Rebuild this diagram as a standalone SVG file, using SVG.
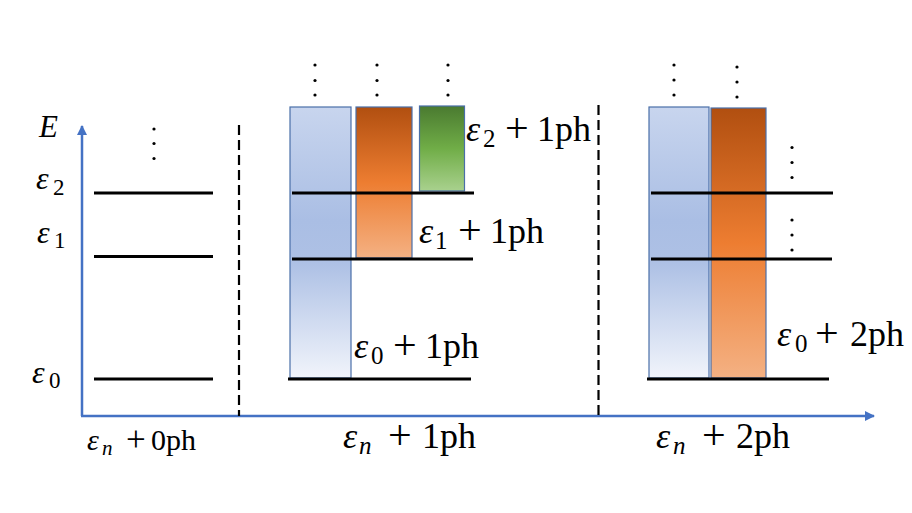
<svg xmlns="http://www.w3.org/2000/svg" width="912" height="513" viewBox="0 0 912 513">
<style>
.t{font-family:"Liberation Serif","DejaVu Serif",serif;fill:#000}
.big{font-size:36px}
.mid{font-size:30px}
.it{font-style:italic}
.pl{font-size:42px}
.plm{font-size:35px}
.lvl{stroke:#000;stroke-width:3;fill:none}
.dash{stroke:#000;stroke-width:2.2;stroke-dasharray:10 5;fill:none}
.axis{stroke:#4472C4;stroke-width:2.5;fill:none}
.bar{stroke:#4A6FA8;stroke-width:1.2}
.dot{fill:#000}
</style>
<defs>
<linearGradient id="gBlue" x1="0" y1="0" x2="0" y2="1">
<stop offset="0" stop-color="#C8D5EE"/>
<stop offset="0.42" stop-color="#AABEE4"/>
<stop offset="0.58" stop-color="#AEC1E5"/>
<stop offset="1" stop-color="#F1F4FB"/>
</linearGradient>
<linearGradient id="gOrange" x1="0" y1="0" x2="0" y2="1">
<stop offset="0" stop-color="#B14F10"/>
<stop offset="0.5" stop-color="#ED7D31"/>
<stop offset="1" stop-color="#F4B183"/>
</linearGradient>
<linearGradient id="gGreen" x1="0" y1="0" x2="0" y2="1">
<stop offset="0" stop-color="#4A7A30"/>
<stop offset="0.5" stop-color="#70AD47"/>
<stop offset="1" stop-color="#A9D18E"/>
</linearGradient>
<marker id="arr" viewBox="0 0 10 10" refX="9" refY="5" markerWidth="4" markerHeight="4" orient="auto" markerUnits="strokeWidth">
<path d="M0,0 L10,5 L0,10 z" fill="#4472C4"/>
</marker>
</defs>

<g id="connectors">
<line class="axis" x1="82" y1="416" x2="82" y2="126" marker-end="url(#arr)"/>
<line class="axis" x1="81" y1="416" x2="874" y2="416" marker-end="url(#arr)"/>
<line class="dash" x1="239" y1="125" x2="239" y2="416"/>
<line class="dash" x1="598.5" y1="105" x2="598.5" y2="416"/>
</g>

<g id="axis-labels">
<text class="t it" x="39" y="137" font-size="31">E</text>
<text class="t" font-size="32" y="189"><tspan class="it" x="36">ε</tspan><tspan x="53" dy="6" font-size="23">2</tspan></text>
<text class="t" font-size="32" y="243"><tspan class="it" x="37">ε</tspan><tspan x="54" dy="5" font-size="23">1</tspan></text>
<text class="t" font-size="32" y="383"><tspan class="it" x="32">ε</tspan><tspan x="49" dy="5" font-size="23">0</tspan></text>
</g>

<g id="column-0ph">
<line class="lvl" x1="94" y1="193" x2="213" y2="193"/>
<line class="lvl" x1="94" y1="256.5" x2="213" y2="256.5"/>
<line class="lvl" x1="94" y1="379" x2="213" y2="379"/>
<circle class="dot" cx="154" cy="129" r="1.6"/>
<circle class="dot" cx="154" cy="143.5" r="1.6"/>
<circle class="dot" cx="154" cy="158.5" r="1.6"/>
<text class="t mid" y="450"><tspan class="it" x="87">ε</tspan><tspan class="it" x="102" dy="5" font-size="21">n</tspan><tspan class="plm" x="126" dy="-4">+</tspan><tspan x="151" dy="-1">0ph</tspan></text>
</g>

<g id="column-1ph">
<rect class="bar" x="290" y="107" width="61" height="271" fill="url(#gBlue)"/>
<rect class="bar" x="356" y="107" width="56" height="151" fill="url(#gOrange)"/>
<rect class="bar" x="419.5" y="106" width="45" height="85" fill="url(#gGreen)"/>
<line class="lvl" x1="292" y1="193" x2="474" y2="193"/>
<line class="lvl" x1="292" y1="259" x2="473" y2="259"/>
<line class="lvl" x1="288" y1="379" x2="471" y2="379"/>
<circle class="dot" cx="315" cy="65" r="1.6"/>
<circle class="dot" cx="315" cy="80.5" r="1.6"/>
<circle class="dot" cx="315" cy="95" r="1.6"/>
<circle class="dot" cx="377" cy="65" r="1.6"/>
<circle class="dot" cx="377" cy="80.5" r="1.6"/>
<circle class="dot" cx="377" cy="95" r="1.6"/>
<circle class="dot" cx="448" cy="65" r="1.6"/>
<circle class="dot" cx="448" cy="80.5" r="1.6"/>
<circle class="dot" cx="448" cy="95" r="1.6"/>
<text class="t big" y="141"><tspan class="it" x="466">ε</tspan><tspan x="483" dy="6" font-size="25">2</tspan><tspan class="pl" x="505" dy="-5">+</tspan><tspan x="537" dy="-1">1ph</tspan></text>
<text class="t big" y="243"><tspan class="it" x="419">ε</tspan><tspan x="435" dy="6" font-size="25">1</tspan><tspan class="pl" x="458" dy="-5">+</tspan><tspan x="490" dy="-1">1ph</tspan></text>
<text class="t big" y="358"><tspan class="it" x="354">ε</tspan><tspan x="371" dy="6" font-size="25">0</tspan><tspan class="pl" x="393" dy="-5">+</tspan><tspan x="425" dy="-1">1ph</tspan></text>
<text class="t big" y="448"><tspan class="it" x="343">ε</tspan><tspan class="it" x="359" dy="6" font-size="25">n</tspan><tspan class="pl" x="388" dy="-5">+</tspan><tspan x="422" dy="-1">1ph</tspan></text>
</g>

<g id="column-2ph">
<rect class="bar" x="649" y="107" width="60" height="271" fill="url(#gBlue)"/>
<rect class="bar" x="711" y="108" width="55" height="270" fill="url(#gOrange)"/>
<line class="lvl" x1="651" y1="193" x2="833" y2="193"/>
<line class="lvl" x1="651" y1="259" x2="832" y2="259"/>
<line class="lvl" x1="647" y1="379" x2="829" y2="379"/>
<circle class="dot" cx="674" cy="65" r="1.6"/>
<circle class="dot" cx="674" cy="80" r="1.6"/>
<circle class="dot" cx="674" cy="95" r="1.6"/>
<circle class="dot" cx="737" cy="67" r="1.6"/>
<circle class="dot" cx="737" cy="82" r="1.6"/>
<circle class="dot" cx="737" cy="97" r="1.6"/>
<circle class="dot" cx="792" cy="147.5" r="1.6"/>
<circle class="dot" cx="792" cy="162.5" r="1.6"/>
<circle class="dot" cx="792" cy="177.5" r="1.6"/>
<circle class="dot" cx="792" cy="220" r="1.6"/>
<circle class="dot" cx="792" cy="235" r="1.6"/>
<circle class="dot" cx="792" cy="250" r="1.6"/>
<text class="t big" y="346"><tspan class="it" x="777">ε</tspan><tspan x="795" dy="6" font-size="25">0</tspan><tspan class="pl" x="815" dy="-5">+</tspan><tspan x="850" dy="-1">2ph</tspan></text>
<text class="t big" y="448"><tspan class="it" x="656">ε</tspan><tspan class="it" x="673" dy="6" font-size="25">n</tspan><tspan class="pl" x="702" dy="-5">+</tspan><tspan x="736" dy="-1">2ph</tspan></text>
</g>
</svg>
